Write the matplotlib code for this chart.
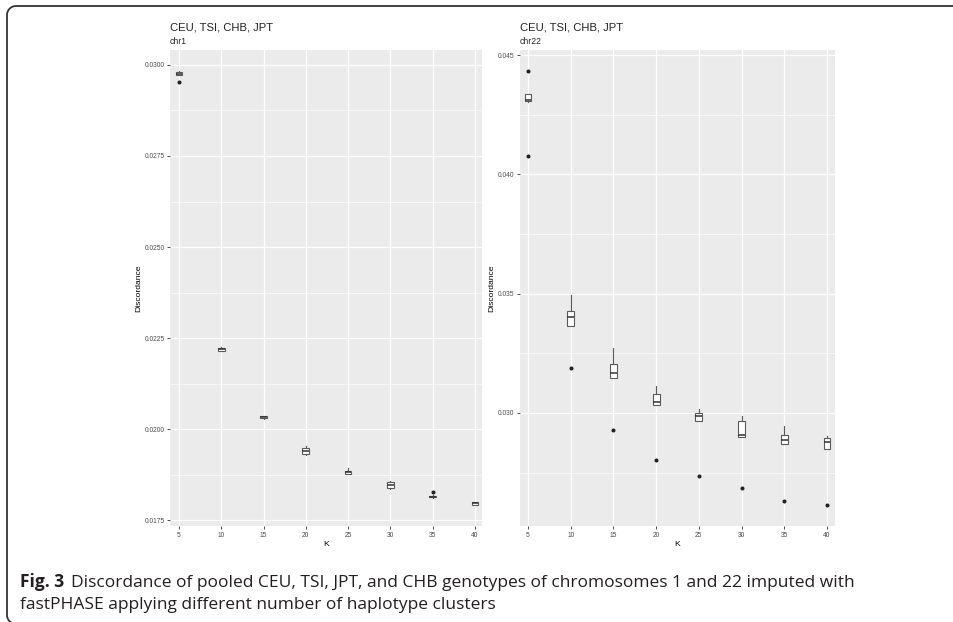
import numpy as np
import matplotlib
matplotlib.use("Agg")
import matplotlib.pyplot as plt
from matplotlib.lines import Line2D
from matplotlib.ticker import MultipleLocator, FixedLocator

# K values (number of haplotype clusters)
k_values = [5, 10, 15, 20, 25, 30, 35, 40]

# chr1 box statistics
chr1_q1 = [0.02973, 0.02215, 0.02030, 0.01931, 0.01877, 0.01837, 0.01813, 0.01793]
chr1_med = [0.02976, 0.02220, 0.02034, 0.01941, 0.01881, 0.01846, 0.01815, 0.01797]
chr1_q3 = [0.02981, 0.02224, 0.02036, 0.01949, 0.01885, 0.01855, 0.01817, 0.01800]
chr1_lo = [0.02971, 0.02214, 0.02027, 0.01929, 0.01876, 0.01835, 0.01812, 0.01792]
chr1_hi = [0.02982, 0.02225, 0.02037, 0.01953, 0.01892, 0.01858, 0.01818, 0.01801]
chr1_out = [[0.02953], [], [], [], [], [], [0.01828], []]

# chr22 box statistics
chr22_q1 = [0.04307, 0.03366, 0.03145, 0.03035, 0.02965, 0.02899, 0.02869, 0.02850]
chr22_med = [0.04311, 0.03401, 0.03169, 0.03045, 0.02985, 0.02907, 0.02886, 0.02877]
chr22_q3 = [0.04335, 0.03429, 0.03204, 0.03078, 0.02999, 0.02964, 0.02907, 0.02894]
chr22_lo = [0.04305, 0.03366, 0.03145, 0.03035, 0.02965, 0.02899, 0.02869, 0.02850]
chr22_hi = [0.04336, 0.03495, 0.03271, 0.03113, 0.03016, 0.02985, 0.02946, 0.02904]
chr22_out = [[0.04433, 0.04077], [0.03190], [0.02929], [0.02802], [0.02736],
             [0.02686], [0.02631], [0.02614]]

caption_bold = 'Fig. 3'
caption_line1 = 'Discordance of pooled CEU, TSI, JPT, and CHB genotypes of chromosomes 1 and 22 imputed with'
caption_line2 = 'fastPHASE applying different number of haplotype clusters'

W, H = 954, 622
plt.rcParams['font.family'] = ['Liberation Sans', 'DejaVu Sans']
fig = plt.figure(figsize=(W / 100, H / 100), dpi=100)


def px_axes(left, right, top, bottom):
    return fig.add_axes([left / W, (H - bottom) / H, (right - left) / W, (bottom - top) / H])


def draw_panel(ax, q1, med, q3, lo, hi, out, subtitle, ylim, xlim, ymajor, yfmt):
    stats = []
    for i in range(len(k_values)):
        stats.append(dict(med=med[i], q1=q1[i], q3=q3[i], whislo=lo[i], whishi=hi[i],
                          fliers=out[i]))
    ax.set_facecolor('#EBEBEB')
    ax.bxp(stats, positions=k_values, widths=0.8, showcaps=False, patch_artist=True,
           boxprops=dict(facecolor='white', edgecolor='#5a5a5a', linewidth=0.8),
           medianprops=dict(color='#333333', linewidth=1.1),
           whiskerprops=dict(color='#5a5a5a', linewidth=0.8),
           flierprops=dict(marker='o', markersize=1.9, markerfacecolor='#222222',
                           markeredgecolor='#222222'),
           manage_ticks=False, zorder=3)
    ax.set_xlim(*xlim)
    ax.set_ylim(*ylim)
    ax.xaxis.set_major_locator(FixedLocator(k_values))
    ax.yaxis.set_major_locator(MultipleLocator(ymajor))
    ax.yaxis.set_minor_locator(MultipleLocator(ymajor / 2))
    ax.yaxis.set_major_formatter(yfmt)
    ax.grid(which='major', color='white', linewidth=0.9, zorder=0)
    ax.grid(which='minor', axis='y', color='white', linewidth=0.45, zorder=0)
    ax.set_axisbelow(True)
    for s in ax.spines.values():
        s.set_visible(False)
    ax.tick_params(which='major', length=2.5, width=0.6, color='#333333', labelsize=4.8,
                   labelcolor='#4D4D4D', pad=1.5)
    ax.tick_params(which='minor', length=0)
    ax.set_xlabel('K', fontsize=6.1, labelpad=2)
    ax.set_ylabel('Discordance', fontsize=6.1, labelpad=1.5)
    ax.text(0, 1.040, 'CEU, TSI, CHB, JPT', transform=ax.transAxes, fontsize=8.1,
            color='#222222', va='baseline', ha='left')
    ax.text(0, 1.012, subtitle, transform=ax.transAxes, fontsize=6.2,
            color='#222222', va='baseline', ha='left')


ax1 = px_axes(170, 482, 50, 526)
draw_panel(ax1, chr1_q1, chr1_med, chr1_q3, chr1_lo, chr1_hi, chr1_out, 'chr1',
           (0.01734, 0.03041), (3.94, 40.83), 0.0025, '{x:.4f}')

ax2 = px_axes(520, 835, 50, 526)
draw_panel(ax2, chr22_q1, chr22_med, chr22_q3, chr22_lo, chr22_hi, chr22_out, 'chr22',
           (0.02526, 0.04521), (4.06, 40.94), 0.005, '{x:.3f}')

# page frame: top and left edges with rounded corners (pixel coords from top-left)
r = 9
fx0, fy0, fy1 = 7, 6, 624
t = np.linspace(np.pi, 1.5 * np.pi, 12)
top_arc_x = fx0 + r + r * np.cos(t)
top_arc_y = fy0 + r + r * np.sin(t)
t2 = np.linspace(0.5 * np.pi, np.pi, 12)[::-1]
bot_arc_x = fx0 + r + r * np.cos(t2)
bot_arc_y = fy1 - r + r * np.sin(t2)
px = np.concatenate([[W + 5], top_arc_x[::-1], bot_arc_x, [W + 5]])
py = np.concatenate([[fy0], top_arc_y[::-1], bot_arc_y, [fy1]])
fig.add_artist(Line2D(px / W, (H - py) / H, transform=fig.transFigure,
                      color='#333333', linewidth=1.3, solid_joinstyle='round'))

# caption, sized so the first line spans the same width as the reference
cap_font = ['Open Sans', 'DejaVu Sans']
cap_x0, cap_x1 = 20, 855
cap_size = 10.0
t1 = fig.text(cap_x0 / W, (H - 587) / H, caption_bold, fontsize=cap_size, fontweight='bold',
              family=cap_font, va='baseline', color='#231F20')
t2_ = fig.text(0, (H - 587) / H, caption_line1, fontsize=cap_size, family=cap_font,
               va='baseline', color='#231F20')
fig.canvas.draw()
r_ = fig.canvas.get_renderer()
w_total = t1.get_window_extent(r_).width + 7 + t2_.get_window_extent(r_).width
cap_size = cap_size * (cap_x1 - cap_x0 - 7) / (w_total - 7)
t1.set_fontsize(cap_size)
t2_.set_fontsize(cap_size)
fig.canvas.draw()
bb = t1.get_window_extent(r_)
t2_.set_x((bb.x1 + 7) / W)
fig.text(cap_x0 / W, (H - 609) / H, caption_line2, fontsize=cap_size, family=cap_font,
         va='baseline', color='#231F20')

fig.savefig('out.png', dpi=100)
